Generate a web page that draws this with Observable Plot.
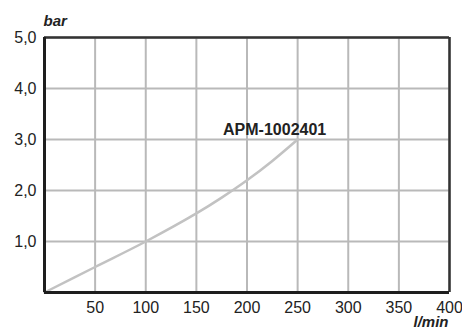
<!DOCTYPE html>
<html><head><meta charset="utf-8">
<script src="https://cdn.jsdelivr.net/npm/d3@7"></script>
<script src="https://cdn.jsdelivr.net/npm/@observablehq/plot@0.6"></script>
<style>
html,body{margin:0;padding:0;background:#fff;}
#chart svg{display:block;}
</style>
</head><body><div id="chart"></div>
<script>
const flow = [0, 50, 100, 150, 175, 200, 225, 250];
const pressure = [0, 0.5, 1.0, 1.55, 1.86, 2.2, 2.58, 3.0];
const xTicks = [50, 100, 150, 200, 250, 300, 350, 400];
const yTicks = [1, 2, 3, 4, 5];
const seriesName = "APM-1002401";
const xUnit = "l/min";
const yUnit = "bar";

const data = flow.map((f, i) => ({flow: f, pressure: pressure[i]}));
const fmt = d => d.toFixed(1).replace(".", ",");

const chart = Plot.plot({
  width: 462,
  height: 330,
  marginLeft: 44,
  marginRight: 13,
  marginTop: 37,
  marginBottom: 38,
  style: {fontFamily: "'Liberation Sans', Arial, sans-serif", fontSize: "16px", color: "#222", background: "#fff"},
  x: {domain: [0, 400]},
  y: {domain: [0, 5]},
  marks: [
    Plot.ruleX(xTicks, {stroke: "#b9b9b9", strokeWidth: 2}),
    Plot.ruleY(yTicks, {stroke: "#b9b9b9", strokeWidth: 2}),
    Plot.line(data, {x: "flow", y: "pressure", curve: "catmull-rom", stroke: "#c2c2c2", strokeWidth: 2.5}),
    Plot.ruleX([400], {stroke: "#333", strokeWidth: 2.5}),
    Plot.ruleY([5], {stroke: "#333", strokeWidth: 2.5}),
    Plot.ruleX([0], {stroke: "#1e1e1e", strokeWidth: 3}),
    Plot.ruleY([0], {stroke: "#1e1e1e", strokeWidth: 3}),
    Plot.axisY({ticks: yTicks, tickFormat: fmt, tickSize: 0, tickPadding: 8, label: null, fill: "#222", fontSize: 16}),
    Plot.axisX({ticks: xTicks, tickFormat: d => String(d), tickSize: 0, tickPadding: 9, label: null, fill: "#222", fontSize: 16}),
    Plot.text([data[data.length - 1]], {x: "flow", y: "pressure", text: () => seriesName, textAnchor: "middle", dx: -23, dy: -10, fontWeight: "bold", fontSize: 16, fill: "#222"}),
    Plot.text([yUnit], {frameAnchor: "top-left", text: d => d, textAnchor: "start", dx: -1, dy: -22, fontWeight: "bold", fontStyle: "italic", fontSize: 15, fill: "#222"}),
    Plot.text([xUnit], {frameAnchor: "bottom-right", text: d => d, textAnchor: "end", dx: -1, dy: 34, fontWeight: "bold", fontStyle: "italic", fontSize: 15, fill: "#222"})
  ]
});
document.getElementById("chart").appendChild(chart);
</script>
</body></html>
